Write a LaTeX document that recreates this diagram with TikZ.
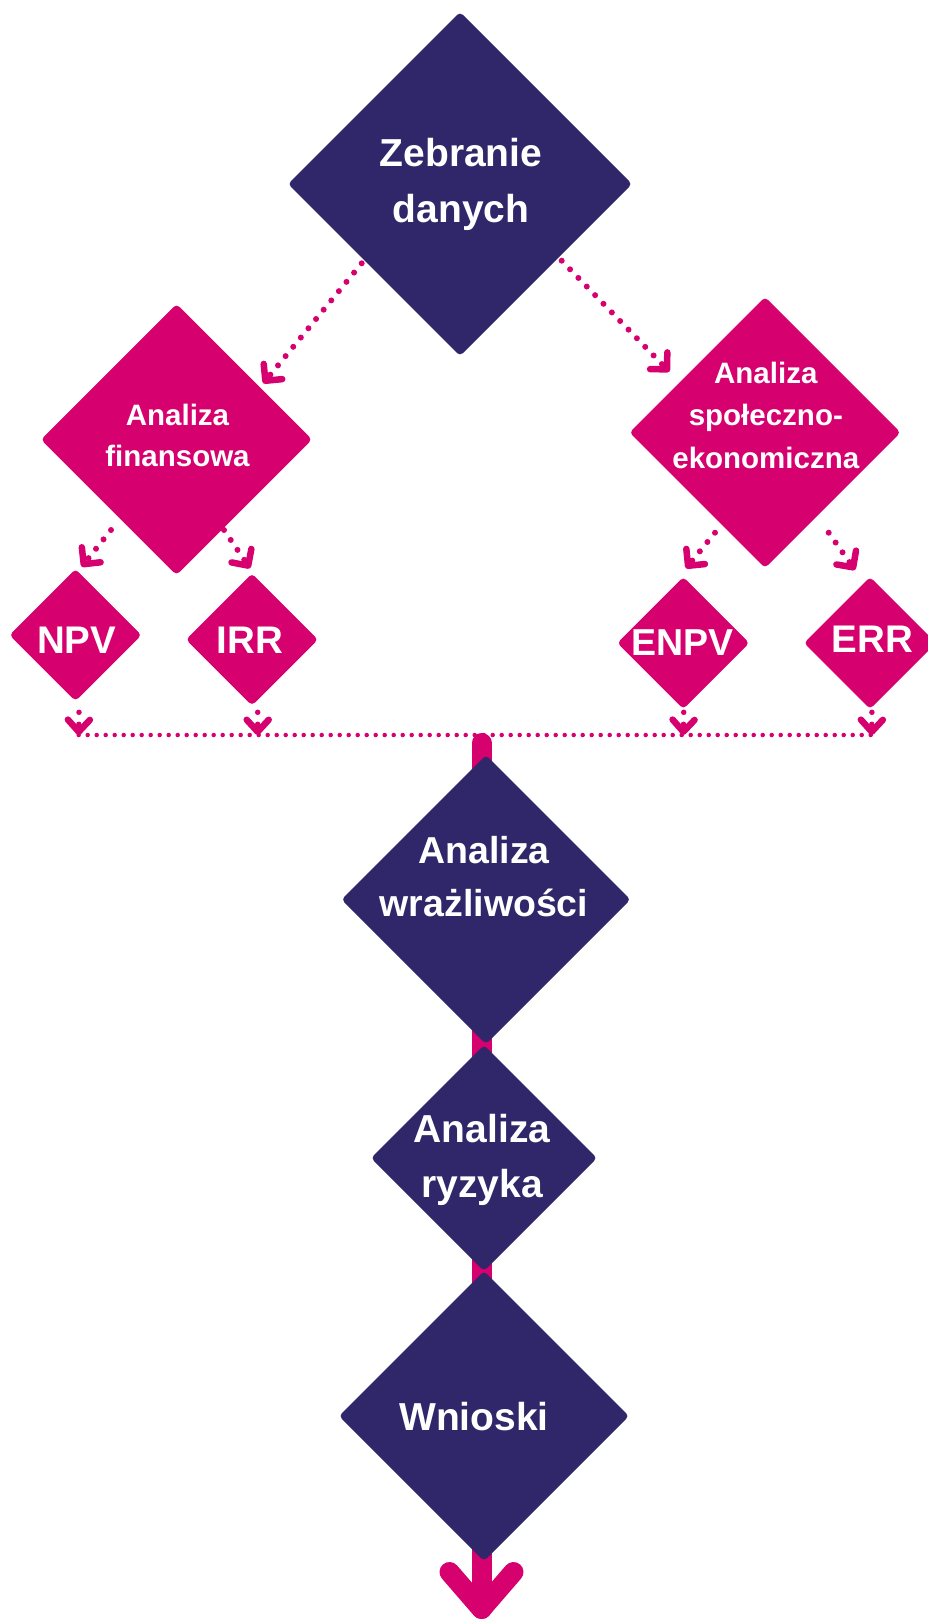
\documentclass[tikz,border=0pt]{standalone}
\usepackage{fontspec}
\setmainfont{Liberation Sans}
\usetikzlibrary{arrows.meta,shapes.geometric,calc}
\definecolor{navy}{HTML}{2F2769}
\definecolor{pinkc}{HTML}{D6006E}
\begin{document}
\begin{tikzpicture}[x=1pt,y=-1pt,
  dia/.style={diamond, aspect=1, inner sep=0pt, outer sep=0pt,
    minimum width=#1, minimum height=#1, rounded corners=4pt, draw=none},
  navydia/.style={dia=#1, fill=navy},
  pinkdia/.style={dia=#1, fill=pinkc},
  lbl/.style={text=white, inner sep=0pt, anchor=base},
  bigtxt/.style={lbl, font=\bfseries\fontsize{39pt}{56pt}\selectfont},
  midtxt/.style={lbl, font=\bfseries\fontsize{38.5pt}{52.7pt}\selectfont},
  smalltxt/.style={lbl, font=\bfseries\fontsize{29.5pt}{42pt}\selectfont},
  dotarrow/.style={draw=pinkc, line width=6pt, line cap=round,
    dash pattern=on 0pt off 12pt,
    -{Straight Barb[round, length=12pt, width=24pt, line width=6.5pt]}},
  shortarrow/.style={draw=pinkc, line width=5.5pt, line cap=round,
    dash pattern=on 0pt off 12pt,
    -{Straight Barb[round, length=12pt, width=22pt, line width=6.5pt]}},
  dotline/.style={draw=pinkc, line width=4.5pt, line cap=round,
    dash pattern=on 0pt off 9pt},
  bar/.style={draw=pinkc, line width=20pt, line cap=round, line join=round}
]
\useasboundingbox (0,0) rectangle (927,1621);

% thick central bar (behind the diamonds)
\coordinate (bartop) at (481.5,743);
\coordinate (barend) at (481.5,1609);
\coordinate (al) at (449.5,1572);
\coordinate (ar) at (513.5,1572);
\draw[bar] (bartop) -- (barend);
\draw[bar] (al) -- (barend) -- (ar);

% diamonds
\node[navydia=344pt] (z) at (460,184) {};
\node[pinkdia=271pt] (fin) at (176.5,439.5) {};
\node[pinkdia=271pt] (spo) at (765,432.5) {};
\node[pinkdia=132pt] (npv) at (75.5,635) {};
\node[pinkdia=132pt] (irr) at (252,639.5) {};
\node[pinkdia=132pt] (enpv) at (683.3,643) {};
\node[pinkdia=132pt] (err) at (870,643) {};
\node[navydia=289pt] (wra) at (486,899.5) {};
\node[navydia=226pt] (ryz) at (484,1158) {};
\node[navydia=290pt] (wni) at (484,1416) {};

% texts
\node[bigtxt] (zt) at (461,166.7) {\begin{tabular}[t]{@{}c@{}}Zebranie\\danych\end{tabular}};
\node[smalltxt, font=\bfseries\fontsize{29.5pt}{41pt}\selectfont] (fint) at (177.5,425) {\begin{tabular}[t]{@{}c@{}}Analiza\\finansowa\end{tabular}};
\node[smalltxt, font=\bfseries\fontsize{29.5pt}{42.5pt}\selectfont] (spot) at (765.8,383.3) {\begin{tabular}[t]{@{}c@{}}Analiza\\społeczno-\\ekonomiczna\end{tabular}};
\node[bigtxt, font=\bfseries\fontsize{38.5pt}{46pt}\selectfont] (npvt) at (76.7,653.3) {NPV};
\node[bigtxt, font=\bfseries\fontsize{38.5pt}{46pt}\selectfont] (irrt) at (250,653.3) {IRR};
\node[bigtxt, font=\bfseries\fontsize{37.5pt}{46pt}\selectfont] (enpvt) at (682.5,655) {ENPV};
\node[bigtxt, font=\bfseries\fontsize{38.5pt}{46pt}\selectfont] (errt) at (872.5,652.7) {ERR};
\node[midtxt, font=\bfseries\fontsize{37.5pt}{52.7pt}\selectfont] (wrat) at (484,863.3) {\begin{tabular}[t]{@{}c@{}}Analiza\\wrażliwości\end{tabular}};
\node[bigtxt, font=\bfseries\fontsize{39pt}{55pt}\selectfont] (ryzt) at (482,1142) {\begin{tabular}[t]{@{}c@{}}Analiza\\ryzyka\end{tabular}};
\node[bigtxt] (wnit) at (474,1430) {Wnioski};

% dotted arrows from the top diamond
\draw[dotarrow] ($(z)+(-98.3,79.3)$) -- ($(fin)+(86.8,-56.2)$);
\draw[dotarrow] ($(z)+(101.7,76.7)$) -- ($(spo)+(-95.7,-60.8)$);

% dotted arrows to the small diamonds
\draw[dotarrow] ($(fin)+(-65.5,90.5)$) -- ($(npv)+(6.2,-68.3)$);
\draw[dotarrow] ($(fin)+(47.5,90.5)$) -- ($(irr)+(-2,-71.2)$);
\draw[dotarrow] ($(spo)+(-50,100.2)$) -- ($(enpv)+(2.7,-74.7)$);
\draw[dotarrow] ($(spo)+(63.7,100.2)$) -- ($(err)+(-15,-73)$);

% horizontal collecting line
\coordinate (hnpv) at (78.7,735);
\coordinate (hirr) at (257.7,735);
\coordinate (henpv) at (683.3,735);
\coordinate (herr) at (871.7,735);
\draw[dotline] (hnpv) -- (herr);

% short arrows down to the line
\draw[shortarrow] ($(npv)+(3.5,77.3)$) -- (hnpv);
\draw[shortarrow] ($(irr)+(5.7,72.8)$) -- (hirr);
\draw[shortarrow] ($(enpv)+(0.4,69.3)$) -- (henpv);
\draw[shortarrow] ($(err)+(1.9,69.3)$) -- (herr);
\end{tikzpicture}
\end{document}
